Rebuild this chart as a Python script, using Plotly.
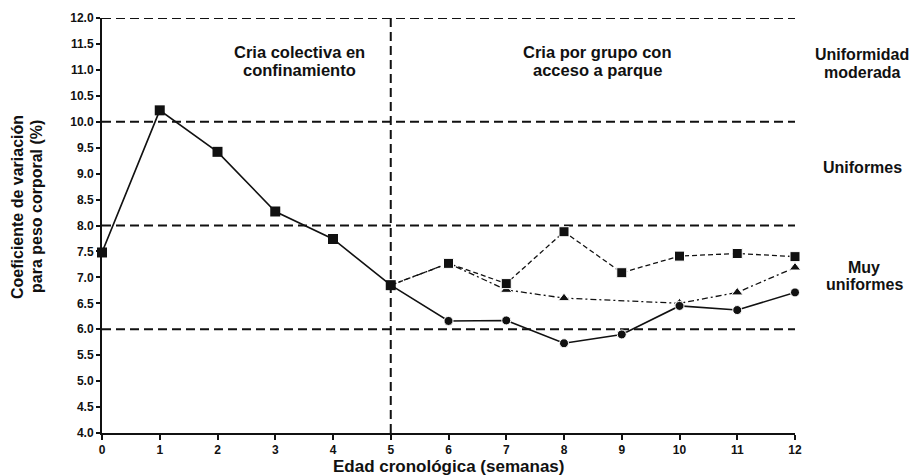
import plotly.graph_objects as go

# ---- data ----
weeks_conf = [0, 1, 2, 3, 4, 5]
cv_conf = [7.48, 10.22, 9.42, 8.27, 7.74, 6.85]

weeks_park = [5, 6, 7, 8, 9, 10, 11, 12]
cv_squares = [6.85, 7.27, 6.88, 7.88, 7.09, 7.41, 7.46, 7.40]
cv_triangles = [6.85, 7.27, 6.76, 6.60, None, 6.50, 6.71, 7.19]
cv_circles = [6.85, 6.16, 6.17, 5.73, 5.90, 6.45, 6.37, 6.71]

x_ticks = list(range(0, 13))
y_ticks = [4.0 + 0.5 * i for i in range(17)]
thresholds = [6.0, 8.0, 10.0, 12.0]
phase_split = 5

phase_label_lines = [["Cria colectiva en", "confinamiento"],
                     ["Cria por grupo con", "acceso a parque"]]
class_label_lines = [["Uniformidad", "moderada"], ["Uniformes"], ["Muy", "uniformes"]]
x_title = "Edad cronológica (semanas)"
y_title_lines = ["Coeficiente de variación", "para peso corporal (%)"]

FONT = "Liberation Sans, Arial, sans-serif"
BLACK = "#111111"

# plot area geometry (pixels)
PL, PR, PT, PB = 102, 795, 18, 433
PW, PH = PR - PL, PB - PT
FIG_W, FIG_H = 914, 476


def px(xp):
    return (xp - PL) / PW


def py(yp):
    return (PB - yp) / PH


fig = go.Figure()

# threshold lines
for t in thresholds:
    fig.add_shape(type="line", xref="x", yref="y", x0=0, x1=12, y0=t, y1=t,
                  line=dict(color=BLACK, width=2, dash="9px,5px"), layer="below")
# phase split
fig.add_shape(type="line", xref="x", yref="y", x0=phase_split, x1=phase_split, y0=4, y1=12,
              line=dict(color=BLACK, width=2, dash="9px,5px"), layer="below")


def sizes(n, s):
    return [0] + [s] * (n - 1)


fig.add_trace(go.Scatter(x=weeks_park, y=cv_triangles, mode="lines+markers",
                         connectgaps=True,
                         line=dict(color=BLACK, width=1.3, dash="6px,3px,2px,3px"),
                         marker=dict(symbol="triangle-up", size=sizes(len(weeks_park), 10),
                                     color=BLACK, opacity=1),
                         cliponaxis=False, showlegend=False))
fig.add_trace(go.Scatter(x=weeks_park, y=cv_squares, mode="lines+markers",
                         line=dict(color=BLACK, width=1.3, dash="5px,3px"),
                         marker=dict(symbol="square", size=sizes(len(weeks_park), 10),
                                     color=BLACK, opacity=1),
                         cliponaxis=False, showlegend=False))
fig.add_trace(go.Scatter(x=weeks_park, y=cv_circles, mode="lines+markers",
                         line=dict(color=BLACK, width=1.6),
                         marker=dict(symbol="circle", size=sizes(len(weeks_park), 9),
                                     color=BLACK, opacity=1),
                         cliponaxis=False, showlegend=False))
fig.add_trace(go.Scatter(x=weeks_conf, y=cv_conf, mode="lines+markers",
                         line=dict(color=BLACK, width=1.6),
                         marker=dict(symbol="square", size=10, color=BLACK, opacity=1),
                         cliponaxis=False, showlegend=False))

annots = []


def add_line(text, xp, yp, size, angle=0):
    annots.append(dict(x=px(xp), y=py(yp), xref="paper", yref="paper", text=text,
                       showarrow=False, xanchor="center", yanchor="middle", textangle=angle,
                       font=dict(family=FONT, size=size, color=BLACK, weight="bold")))


for lines, xc in zip(phase_label_lines, [299.5, 597]):
    for i, t in enumerate(lines):
        add_line(t, xc, 52 + 18 * i, 16.5)

for lines, (xc, y0) in zip(class_label_lines, [(862, 55), (862, 167), (864, 267)]):
    for i, t in enumerate(lines):
        add_line(t, xc, y0 + 17.5 * i, 16)

add_line(x_title, 449, 466, 17)
for i, t in enumerate(y_title_lines):
    add_line(t, 18 + 19 * i, 207, 16, angle=-90)

fig.update_layout(
    width=FIG_W, height=FIG_H,
    margin=dict(l=PL, r=FIG_W - PR, t=PT, b=FIG_H - PB),
    paper_bgcolor="white", plot_bgcolor="white",
    annotations=annots,
    xaxis=dict(range=[0, 12], tickvals=x_ticks, ticktext=[str(v) for v in x_ticks],
               showgrid=False, zeroline=False, showline=True, linecolor=BLACK, linewidth=2,
               ticks="outside", ticklen=5, tickwidth=2, tickcolor=BLACK,
               tickfont=dict(family=FONT, size=12, color=BLACK, weight="bold")),
    yaxis=dict(range=[4, 12], tickvals=y_ticks, ticktext=[f"{v:.1f}" for v in y_ticks],
               showgrid=False, zeroline=False, showline=True, linecolor=BLACK, linewidth=2,
               ticks="outside", ticklen=4, tickwidth=1.5, tickcolor=BLACK,
               tickfont=dict(family=FONT, size=12, color=BLACK, weight="bold")),
)

fig.write_html("out.html", config={"displayModeBar": False},
               post_script="document.body.style.margin='0';document.body.style.overflow='hidden';")
